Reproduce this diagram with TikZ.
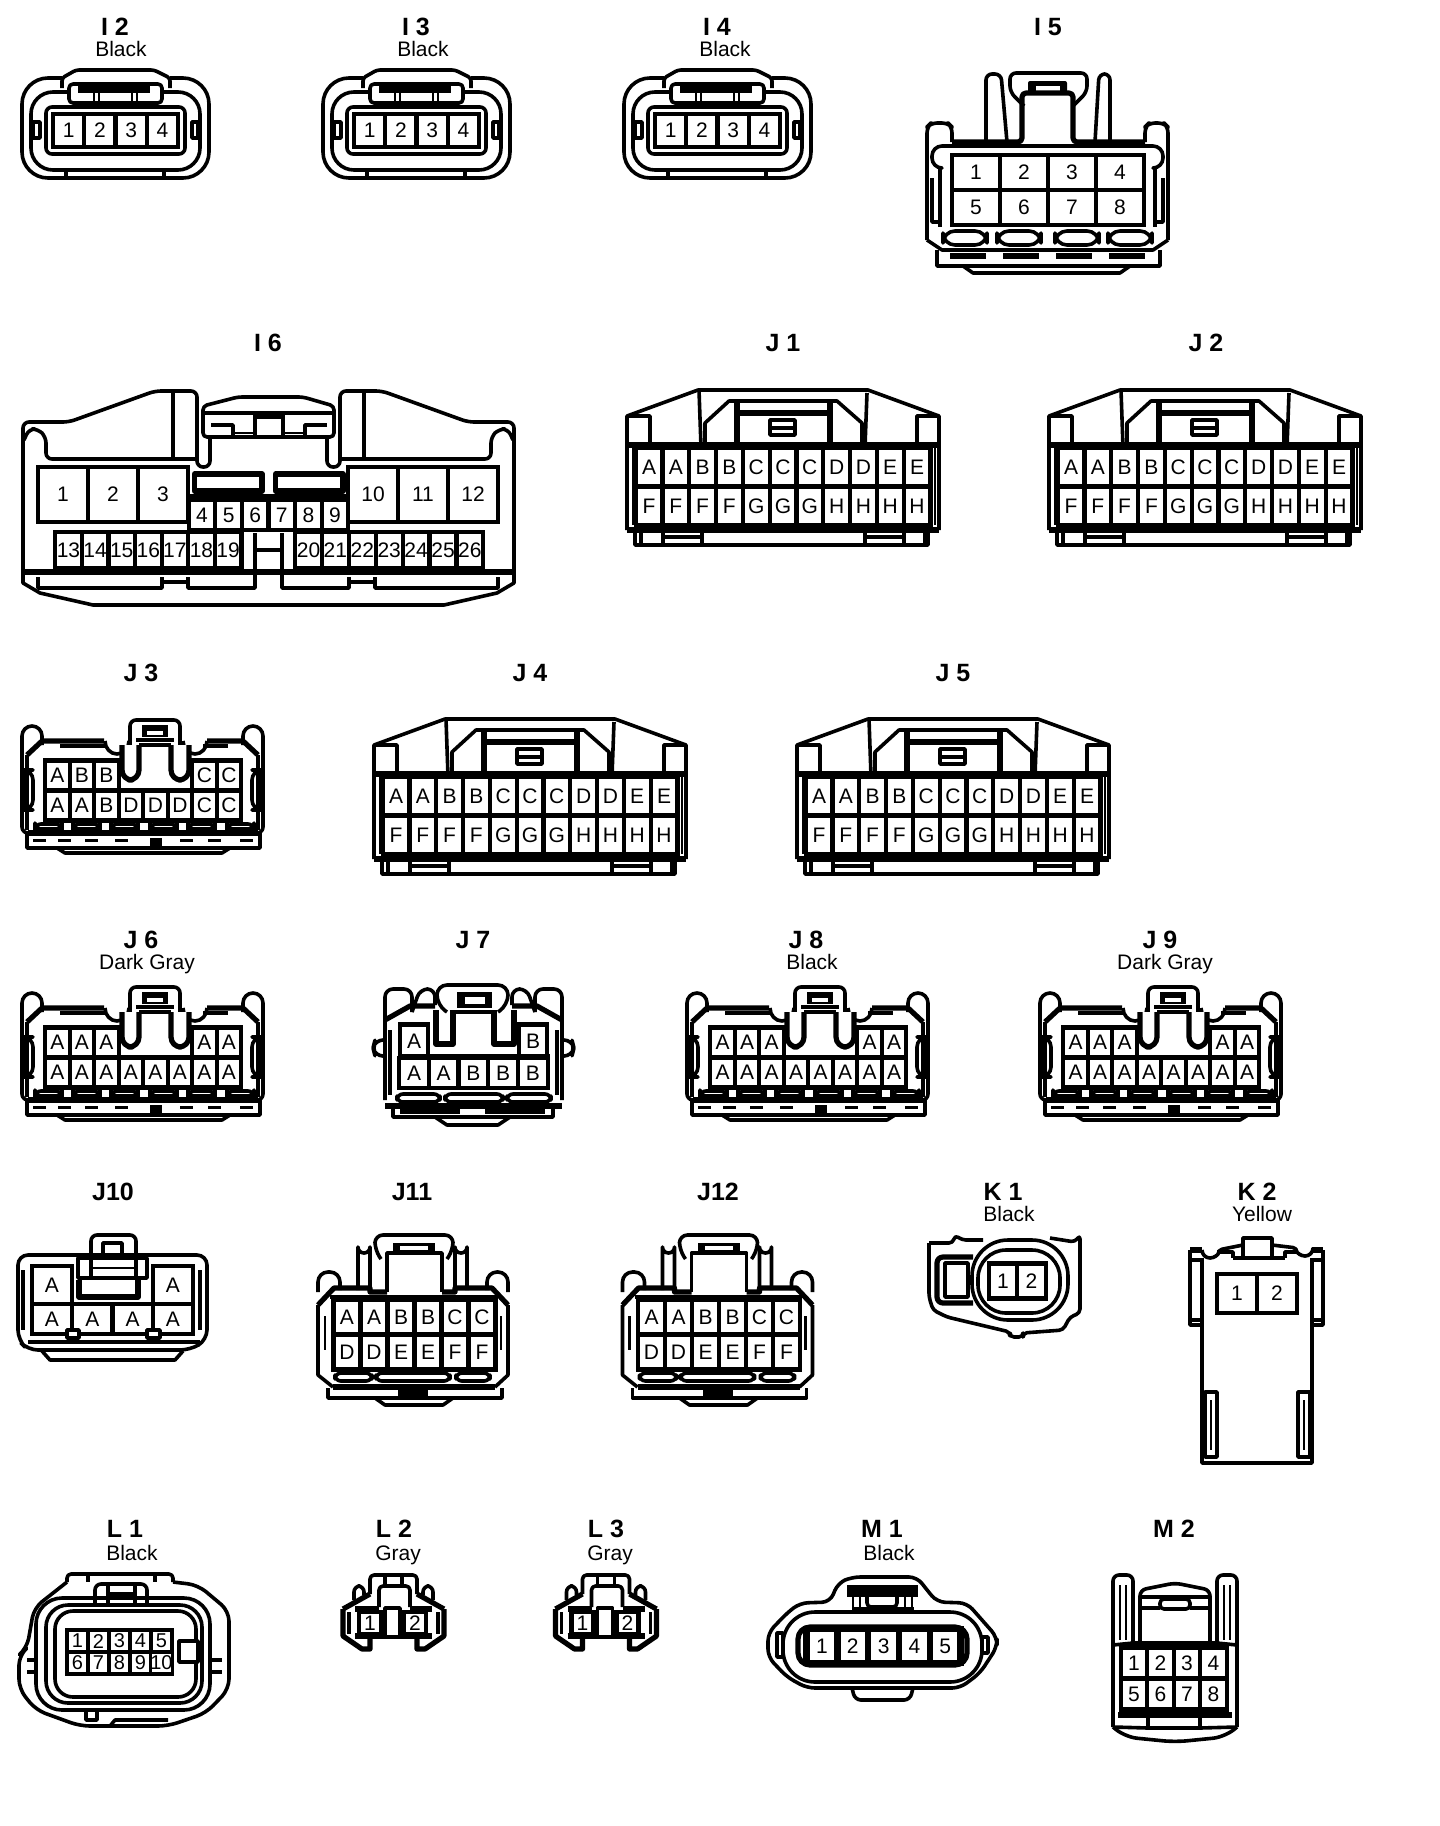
\documentclass[tikz,border=0pt]{standalone}
\usepackage{fontspec}
\setmainfont{Liberation Sans}
\usetikzlibrary{calc}

\newcommand{\pinrow}[7][]{%
  \foreach \lbl [count=\n from 0] in {#7} {
    \node[pincell, minimum width=#5*0.5pt, minimum height=#6*0.5pt, #1] (#2\n) at ({#3+\n*#5},#4) {\lbl};
  }
}

\tikzset{
  x=0.5pt, y=-0.5pt,
  conn/.style={line width=1.8pt, line join=round},
  connthick/.style={line width=2.6pt, line join=round},
  connthin/.style={line width=1.1pt, line join=round},
  pincell/.style={draw, fill=white, line width=2.1pt, inner sep=0pt, font=\fontsize{10.5}{12}\selectfont},
  title/.style={inner sep=0pt, anchor=base, font=\fontsize{12.5}{14}\selectfont\bfseries},
  colorname/.style={inner sep=0pt, anchor=base, font=\fontsize{10.5}{12}\selectfont},
  % four pin oval housing
  pics/fouroval/.style={code={
    \draw[conn, rounded corners=13pt] (62,78) -- (22,78) -- (22,178) -- (209,178) -- (209,78) -- (170,78);
    \draw[conn, rounded corners=1.5pt] (62,88) -- (62,78) -- (76,70) -- (154,70) -- (170,78) -- (170,88);
    \draw[conn, rounded corners=11pt] (69,92) -- (31,92) -- (31,170) -- (200,170) -- (200,92) -- (162,92);
    \draw[conn] (66,170) -- (66,178) (164,170) -- (164,178);
    \draw[conn] (33,122) rectangle (40,138) (192,122) rectangle (198,138);
    \draw[conn, rounded corners=3pt] (46,107) rectangle (185,154);
    \draw[conn, rounded corners=2pt] (69,103) -- (69,84) -- (162,84) -- (162,103) -- cycle;
    \fill (78,84) rectangle (150,93);
    \draw[connthin] (94,93) -- (94,106) (99,93) -- (99,106) (132,93) -- (132,106) (137,93) -- (137,106);
    \pinrow{p}{68.6}{130.5}{31.25}{33}{1,2,3,4}
  }},
  % wide housing with two rows of eleven
  pics/widetwo/.style={code={
    \draw[conn] (627,530) -- (627,416) -- (698,390) -- (868,390) -- (939,416) -- (939,530);
    \draw[conn] (627,416) -- (650,416) -- (650,445) (939,416) -- (917,416) -- (917,445);
    \draw[connthick] (627,445) -- (939,445);
    \draw[conn] (699,390) -- (701,447) (867,393) -- (865,447);
    \draw[conn] (705,447) -- (705,423) -- (729,401) -- (837,401) -- (862,423) -- (862,447);
    \draw[connthick] (737,401) -- (737,446) (830,401) -- (830,446);
    \draw[connthick] (740,413) -- (828,413);
    \draw[conn] (770,420) rectangle (795,435) (770,428) -- (795,428);
    \draw[connthin] (633,445) -- (633,525) (935,445) -- (935,525);
    \pinrow{a}{649}{467}{26.8}{39}{A,A,B,B,C,C,C,D,D,E,E}
    \pinrow{f}{649}{506}{26.8}{39}{F,F,F,F,G,G,G,H,H,H,H}
    \draw[connthick] (627,530) -- (939,530);
    \draw[conn] (635,530) -- (635,545) -- (928,545) -- (928,530);
    \draw[conn] (641,530) -- (641,545) (663,530) -- (663,545) (702,530) -- (702,545) (865,530) -- (865,545) (904,530) -- (904,545) (925,530) -- (925,545);
    \draw[conn] (663,537) -- (702,537) (865,537) -- (904,537);
  }},
  % low housing with tower and two short upper groups
  pics/lowtower/.style n args={3}{code={
    \draw[conn, rounded corners=5pt] (22,745) -- (22,726) -- (42,726) -- (42,745);
    \draw[conn, rounded corners=5pt] (243,745) -- (243,726) -- (263,726) -- (263,745);
    \draw[conn, rounded corners=3pt] (22,740) -- (22,833) -- (263,833) -- (263,740);
    \draw[connthick] (27,755) -- (42,741) -- (104,741) (207,741) -- (243,741) -- (258,755);
    \draw[conn] (27,755) -- (27,830) (258,755) -- (258,830);
    \draw[conn] (60,746) -- (107,746) (203,746) -- (228,746);
    \draw[conn] (105,741) arc (180:0:12 and 13) (183,741) arc (180:0:12 and 13);
    \draw[conn, rounded corners=3pt] (130,745) -- (130,720) -- (180,720) -- (180,745);
    \fill (142,725) rectangle (168,737);
    \fill[white] (147,731) rectangle (163,735);
    \draw[conn] (136,740) -- (174,740);
    \draw[conn, rounded corners=5pt] (23,770) rectangle (33,810) (252,770) rectangle (262,810);
    \pinrow{a}{57.5}{775.5}{24.5}{30}{#1}
    \pinrow{c}{204.5}{775.5}{24.5}{30}{#2}
    \pinrow{d}{57.5}{805.5}{24.5}{30}{#3}
    \draw[connthick, fill=white, rounded corners=5pt] (122,745) -- (122,780) -- (139,780) -- (139,745) (171,745) -- (171,780) -- (189,780) -- (189,745);
    \draw[conn, fill=white, rounded corners=2pt] (139,745) -- (171,745);
    \foreach \tabx in {35,73,111,150,188,227} {
      \draw[conn, rounded corners=3pt] (\tabx,824) rectangle ++(27,5);
    }
    \draw[connthick] (28,833) -- (258,833);
    \draw[conn] (27,833) -- (27,848) -- (260,848) -- (260,833);
    \draw[conn] (57,848) -- (65,853) -- (222,853) -- (230,848);
    \foreach \barx in {33,58,85,115,180,208,240} {
      \fill (\barx,839) rectangle ++(13,3);
    }
    \fill (150,838) rectangle (162,848);
  }},
  % six by two housing with tower
  pics/sixtower/.style={code={
    \draw[conn, rounded corners=5pt] (318,1292) -- (318,1272) -- (340,1272) -- (340,1290);
    \draw[conn, rounded corners=5pt] (487,1290) -- (487,1272) -- (508,1272) -- (508,1292);
    \draw[conn] (358,1290) -- (358,1247) arc (180:0:6) -- (370,1291) (455,1291) -- (455,1247) arc (180:0:6) -- (467,1290);
    \draw[conn, rounded corners=4pt] (381,1259) -- (375,1250) -- (375,1235) -- (453,1235) -- (453,1250) -- (447,1259);
    \fill (393,1243) rectangle (435,1252);
    \fill[white] (400,1246) rectangle (428,1250);
    \draw[conn] (387,1292) -- (387,1253) -- (442,1253) -- (442,1292);
    \draw[connthick] (318,1305) -- (334,1288) -- (370,1288) -- (370,1292) -- (387,1292) (442,1292) -- (455,1292) -- (455,1288) -- (492,1288) -- (508,1305);
    \draw[conn] (330,1297) -- (497,1297);
    \draw[conn] (318,1305) -- (318,1375) -- (333,1387) (508,1305) -- (508,1375) -- (495,1387);
    \draw[connthin] (325,1316) -- (325,1350) (501,1316) -- (501,1350);
    \pinrow{a}{347}{1317}{27}{35}{A,A,B,B,C,C}
    \pinrow{d}{347}{1352}{27}{35}{D,D,E,E,F,F}
    \draw[conn, rounded corners=3pt] (335,1373) rectangle (372,1381) (376,1373) rectangle (450,1381) (456,1373) rectangle (490,1381);
    \draw[connthick] (333,1387) -- (495,1387);
    \draw[conn] (328,1388) -- (328,1398) -- (502,1398) -- (502,1388);
    \fill (398,1390) rectangle (428,1396);
    \draw[conn] (375,1398) -- (385,1405) -- (443,1405) -- (453,1398);
  }},
  % two pin housing of the L row
  pics/twosmall/.style={code={
    \draw[conn, rounded corners=2pt] (370,1594) -- (370,1575) -- (417,1575) -- (417,1594);
    \draw[conn, rounded corners=2pt] (379,1607) -- (379,1586) -- (410,1586) -- (410,1607);
    \draw[conn] (385,1575) -- (385,1586) (402,1575) -- (402,1586);
    \draw[conn, rounded corners=3pt] (354,1600) -- (354,1586) -- (364,1586) -- (364,1595) (423,1595) -- (423,1586) -- (433,1586) -- (433,1600);
    \draw[connthick] (343,1609) -- (370,1594) (417,1594) -- (444,1609);
    \draw[connthick] (343,1609) -- (343,1636) -- (362,1649) -- (370,1649) -- (370,1636) (444,1609) -- (444,1636) -- (425,1649) -- (417,1649) -- (417,1636);
    \draw[conn] (349,1612) -- (349,1634) (438,1612) -- (438,1634);
    \draw[connthick] (355,1609) -- (379,1609) (410,1609) -- (432,1609) (355,1636) -- (432,1636);
    \pinrow[minimum width=22*0.5pt]{l}{370}{1623}{45}{22}{1,2}
    \draw[conn, fill=white] (385,1608) rectangle (400,1637);
  }},
}

\begin{document}
\begin{tikzpicture}
  \useasboundingbox (0,0) rectangle (1440,1826);

  % connector names
  \foreach \tname/\tx/\ty in {
    I 2/115/35, I 3/416/35, I 4/717/35, I 5/1048/35, I 6/268/351, J 1/783/351, J 2/1206/351,
    J 3/141/681, J 4/530/681, J 5/953/681, J 6/141/948, J 7/473/948, J 8/806/948, J 9/1160/948,
    J10/113/1200, J11/412/1200, J12/718/1200, K 1/1003/1200, K 2/1257/1200,
    L 1/125/1537, L 2/394/1537, L 3/606/1537, M 1/882/1537, M 2/1174/1537} {
    \node[title] (name\tx\ty) at (\tx,\ty) {\tname};
  }

  % connector colours
  \foreach \cname/\cx/\cy in {
    Black/121/56, Black/423/56, Black/725/56, Dark Gray/147/969, Black/812/969, Dark Gray/1165/969,
    Black/1009/1221, Yellow/1262/1221, Black/132/1560, Gray/398/1560, Gray/610/1560, Black/889/1560} {
    \node[colorname] (colour\cx\cy) at (\cx,\cy) {\cname};
  }

  % I row
  \pic (i2) at (0,0) {fouroval};
  \pic (i3) at (301,0) {fouroval};
  \pic (i4) at (602,0) {fouroval};

  % I5
  \draw[conn, rounded corners=3pt] (927,240) -- (927,127) -- (931,123) -- (948,123) -- (952,127) -- (952,142);
  \draw[conn, rounded corners=3pt] (1145,142) -- (1145,127) -- (1149,123) -- (1164,123) -- (1168,127) -- (1168,240);
  \draw[conn, rounded corners=3pt] (986,142) -- (986,74) -- (1001,74) -- (1007,142);
  \draw[conn, rounded corners=3pt] (1095,142) -- (1099,74) -- (1110,74) -- (1110,142);
  \draw[conn, rounded corners=3pt] (1024,106) -- (1010,92) -- (1010,73) -- (1087,73) -- (1087,92) -- (1073,106);
  \fill[rounded corners=1pt] (1028,81) rectangle (1067,93);
  \fill[white] (1036,86) rectangle (1060,91);
  \draw[connthick, rounded corners=2pt] (952,142) -- (1022,142) -- (1022,93) -- (1073,93) -- (1073,142) -- (1145,142);
  \draw[conn, rounded corners=5pt] (940,168) -- (932,168) -- (932,146) -- (1163,146) -- (1163,168) -- (1155,168);
  \draw[conn] (940,168) -- (940,227) (932,178) -- (932,222) -- (940,222) (1155,168) -- (1155,227) (1163,178) -- (1163,222) -- (1155,222);
  \pinrow{i5a}{976}{172.5}{48}{35}{1,2,3,4}
  \pinrow{i5b}{976}{207.5}{48}{35}{5,6,7,8}
  \foreach \ovalx in {943,997,1055,1108} {
    \draw[conn, rounded corners=6pt] (\ovalx,231) rectangle ++(44,14);
  }
  \draw[conn] (927,240) -- (942,250) -- (1153,250) -- (1168,240);
  \draw[conn] (937,250) -- (937,266) -- (1160,266) -- (1160,250);
  \draw[conn] (963,266) -- (973,273) -- (1120,273) -- (1130,266);
  \foreach \barx in {950,1003,1056,1109} {
    \fill (\barx,253) rectangle ++(36,6);
  }

  % I6
  \draw[conn, rounded corners=3pt] (23,440) -- (23,422) -- (69,422) -- (155,391) -- (197,391) -- (197,467) -- (210,467) -- (210,437);
  \draw[conn, rounded corners=3pt] (514,440) -- (514,422) -- (468,422) -- (382,391) -- (340,391) -- (340,467) -- (327,467) -- (327,437);
  \draw[conn] (173,391) -- (173,459) (364,391) -- (364,459);
  \draw[conn] (23,440) -- (23,583) -- (40,593) -- (93,605) -- (444,605) -- (497,593) -- (514,583) -- (514,440);
  \draw[conn, rounded corners=3pt] (24,440) -- (29,429) -- (38,429) -- (46,437) -- (46,459) -- (197,459);
  \draw[conn, rounded corners=3pt] (513,440) -- (508,429) -- (499,429) -- (491,437) -- (491,459) -- (340,459);
  \draw[conn, rounded corners=2pt] (203,437) -- (203,406) -- (238,397) -- (303,397) -- (334,406) -- (334,437) -- cycle;
  \draw[conn] (203,413) -- (334,413);
  \draw[conn] (255,413) rectangle (283,437);
  \fill (255,413) rectangle (283,419);
  \draw[conn] (211,425) -- (233,425) -- (233,437) (327,425) -- (305,425) -- (305,437);
  \draw[connthin] (233,433) -- (255,433) (283,433) -- (305,433);
  \draw[connthick] (194.5,474) rectangle (262,491) (275.5,474) rectangle (343,491);
  \draw[connthick] (189,497) -- (348,497);
  \pinrow{i6a}{63}{494.5}{50}{55}{1,2,3}
  \pinrow{i6b}{373}{494.5}{50}{55}{10,11,12}
  \pinrow{i6c}{202}{515}{26.6}{30}{4,5,6,7,8,9}
  \pinrow{i6d}{68.5}{550}{26.6}{36}{13,14,15,16,17,18,19}
  \pinrow{i6e}{308.5}{550}{26.9}{36}{20,21,22,23,24,25,26}
  \draw[connthick] (23,572) -- (514,572);
  \draw[conn] (255,533) -- (255,588) -- (188,588) -- (188,577);
  \draw[conn] (282,533) -- (282,588) -- (349,588) -- (349,577);
  \draw[conn] (255,550) -- (282,550);
  \draw[conn] (38,577) -- (38,588) -- (162,588) -- (162,577) (498,577) -- (498,588) -- (375,588) -- (375,577);
  \draw[conn] (162,582) -- (188,582) (349,582) -- (375,582);

  % J1 to J5
  \pic (j1) at (0,0) {widetwo};
  \pic (j2) at (422,0) {widetwo};
  \pic (j4) at (-253,329) {widetwo};
  \pic (j5) at (170,329) {widetwo};

  % J3, J6, J8, J9
  \pic (j3) at (0,0) {lowtower={A,B,B}{C,C}{A,A,B,D,D,D,C,C}};
  \pic (j6) at (0,267) {lowtower={A,A,A}{A,A}{A,A,A,A,A,A,A,A}};
  \pic (j8) at (665,267) {lowtower={A,A,A}{A,A}{A,A,A,A,A,A,A,A}};
  \pic (j9) at (1018,267) {lowtower={A,A,A}{A,A}{A,A,A,A,A,A,A,A}};

  % J7
  \draw[conn, rounded corners=4pt] (385,1100) -- (385,989) -- (412,989) -- (412,1012);
  \draw[conn, rounded corners=4pt] (562,1100) -- (562,989) -- (535,989) -- (535,1012);
  \draw[conn, rounded corners=4pt] (412,1012) -- (420,989) -- (435,989) -- (435,1005) (535,1012) -- (527,989) -- (512,989) -- (512,1005);
  \draw[conn, rounded corners=5pt] (447,1012) -- (437,1005) -- (437,985) -- (508,985) -- (508,1005) -- (498,1012);
  \fill (457,992) rectangle (492,1008);
  \fill[white] (465,997) rectangle (485,1004);
  \draw[conn] (453,1012) -- (496,1012);
  \draw[connthick] (385,1020) -- (410,1006) -- (435,1006) (512,1006) -- (537,1006) -- (562,1020);
  \draw[conn] (390,1030) -- (390,1095) (557,1030) -- (557,1095);
  \draw[conn, rounded corners=4pt] (385,1040) -- (375,1040) -- (373,1048) -- (375,1056) -- (385,1056) (562,1040) -- (572,1040) -- (574,1048) -- (572,1056) -- (562,1056);
  \pinrow[minimum width=28*0.5pt]{j7a}{414}{1041}{119}{33}{A,B}
  \draw[connthick] (398,1057) -- (550,1057);
  \draw[connthick] (436,1010) -- (436,1044) -- (453,1044) -- (453,1010) (494,1010) -- (494,1044) -- (514,1044) -- (514,1010);
  \pinrow[minimum width=30*0.5pt, minimum height=30*0.5pt]{j7b}{414}{1073}{29.7}{33}{A,A,B,B,B}
  \draw[conn, rounded corners=3pt] (397,1094) rectangle (440,1102) (445,1094) rectangle (503,1102) (507,1094) rectangle (551,1102);
  \draw[connthick] (385,1106) -- (562,1106);
  \draw[conn] (393,1106) -- (393,1117) -- (553,1117) -- (553,1106);
  \draw[connthick] (400,1111) -- (460,1111) (485,1111) -- (545,1111);
  \draw[conn] (435,1117) -- (447,1125) -- (498,1125) -- (510,1117);

  % J10
  \draw[conn, rounded corners=5pt] (18,1340) -- (18,1255) -- (207,1255) -- (207,1340) -- (190,1350) -- (28,1350) -- cycle;
  \draw[conn] (23,1270) -- (23,1330) (200,1270) -- (200,1330);
  \draw[conn] (28,1342) -- (200,1342);
  \draw[conn] (42,1351) -- (50,1360) -- (175,1360) -- (183,1351);
  \draw[conn, rounded corners=3pt] (91,1278) -- (91,1235) -- (136,1235) -- (136,1278);
  \draw[conn] (103,1255) -- (103,1243) -- (122,1243) -- (122,1255);
  \draw[conn] (78,1258) -- (147,1258) -- (147,1278) -- (78,1278) -- cycle;
  \draw[connthick] (79,1280) -- (79,1297) -- (138,1297) -- (138,1280);
  \draw[connthin] (91,1268) -- (136,1268);
  \pinrow[minimum width=40*0.5pt]{j10a}{52}{1285}{121}{38}{A,A}
  \pinrow[minimum width=40*0.5pt]{j10b}{52}{1319}{40.3}{30}{A,A,A,A}
  \draw[conn, fill=white] (67,1330) rectangle (79,1338) (147,1330) rectangle (160,1338);

  % J11, J12
  \pic (j11) at (0,0) {sixtower};
  \pic (j12) at (304.5,0) {sixtower};

  % K1
  \draw[conn, rounded corners=2pt] (929,1243) -- (953,1243) -- (955,1235) -- (962,1240) -- (983,1240) (1050,1238) -- (1075,1242) -- (1080,1235) -- (1080,1313) -- (1070,1317) -- (1063,1330) -- (1023,1333) -- (1023,1337) -- (1010,1337) -- (1010,1332) -- (947,1317) -- (933,1310) -- (929,1297) -- (929,1243);
  \draw[conn, fill=white, rounded corners=18pt] (972,1240) rectangle (1068,1320);
  \draw[conn, rounded corners=14pt] (978,1250) rectangle (1060,1313);
  \draw[connthick, rounded corners=3pt] (973,1257) -- (937,1257) -- (937,1303) -- (973,1303);
  \draw[conn] (945,1263) rectangle (968,1297);
  \pinrow{k1a}{1003}{1281}{28.5}{35}{1,2}

  % K2
  \draw[conn] (1202,1258) -- (1202,1463) -- (1312,1463) -- (1312,1258);
  \draw[connthick] (1190,1250) -- (1202,1250) (1312,1250) -- (1323,1250);
  \draw[conn] (1190,1250) -- (1190,1325) -- (1202,1325) (1323,1250) -- (1323,1325) -- (1312,1325);
  \draw[conn] (1190,1260) -- (1202,1260) (1312,1260) -- (1323,1260) (1190,1320) -- (1202,1320) (1312,1320) -- (1323,1320);
  \draw[conn, rounded corners=2pt] (1202,1250) arc (180:0:8) -- (1243,1245) (1272,1245) -- (1297,1248) arc (180:0:8);
  \draw[conn] (1243,1238) rectangle (1272,1258);
  \draw[conn] (1233,1258) -- (1285,1258) (1217,1252) -- (1233,1252) -- (1233,1258) (1298,1252) -- (1285,1252) -- (1285,1258);
  \pinrow{k2a}{1237}{1293.5}{40}{39}{1,2}
  \draw[conn] (1205,1392) rectangle (1217,1457) (1298,1392) rectangle (1310,1457);
  \draw[connthin] (1211,1400) -- (1211,1450) (1304,1400) -- (1304,1450);

  % L1
  \draw[conn, rounded corners=5pt] (67,1582) -- (34,1608) -- (27,1648) -- (19,1655) -- (19,1689) -- (36,1710) -- (80,1726) -- (168,1726) -- (206,1713) -- (229,1689) -- (229,1611) -- (198,1585) -- (173,1582);
  \draw[conn, rounded corners=2pt] (67,1582) -- (67,1574) -- (173,1574) -- (173,1582);
  \draw[conn] (88,1574) -- (88,1582) (155,1574) -- (155,1582);
  \draw[conn, rounded corners=13pt] (36,1598) rectangle (210,1710);
  \draw[conn, rounded corners=11pt] (46,1605) rectangle (202,1703);
  \draw[conn, rounded corners=9pt] (55,1611) rectangle (196,1697);
  \draw[conn, rounded corners=3pt] (95,1605) -- (95,1584) -- (147,1584) -- (147,1605);
  \draw[conn] (108,1584) -- (108,1605) (135,1584) -- (135,1605) (108,1594) -- (135,1594);
  \draw[conn] (27,1660) -- (36,1660) (27,1672) -- (36,1672) (210,1660) -- (222,1660) (210,1672) -- (222,1672);
  \draw[conn] (86,1710) -- (86,1720) -- (97,1720) -- (97,1710) (110,1726) -- (115,1720) -- (168,1720);
  \fill (67,1630) rectangle (173,1674);
  \pinrow[line width=1.7pt, font=\fontsize{10}{11}\selectfont]{l1a}{77.5}{1641}{21}{22}{1,2,3,4,5}
  \pinrow[line width=1.7pt, font=\fontsize{10}{11}\selectfont]{l1b}{77.5}{1663}{21}{22}{6,7,8,9,10}
  \draw[conn, fill=white] (179,1641) rectangle (198,1662);

  % L2, L3
  \pic (l2) at (0,0) {twosmall};
  \pic (l3) at (212.5,0) {twosmall};

  % M1
  \draw[conn, rounded corners=4pt] (768,1633) -- (787,1613) -- (800,1603) -- (830,1602) -- (838,1583) -- (852,1577) -- (917,1577) -- (927,1590) -- (937,1602) -- (967,1603) -- (997,1637) -- (997,1647) -- (980,1673) -- (960,1688) -- (807,1688) -- (787,1677) -- (768,1657) -- cycle;
  \draw[conn, rounded corners=16pt] (783,1612) rectangle (982,1682);
  \draw[conn, rounded corners=3pt] (852,1688) -- (855,1700) -- (910,1700) -- (913,1688);
  \draw[conn] (777,1633) rectangle (783,1657) (982,1637) rectangle (988,1653);
  \draw[connthick, rounded corners=6pt] (798,1627) rectangle (967,1665);
  \pinrow[minimum height=34*0.5pt, line width=3.2pt]{m1a}{822}{1646}{30.8}{34}{1,2,3,4,5}
  \fill (847,1585) rectangle (918,1597);
  \draw[conn, rounded corners=2pt] (867,1596) -- (867,1607) -- (897,1607) -- (897,1596);
  \draw[connthin] (853,1597) -- (853,1609) (860,1597) -- (860,1609) (905,1597) -- (905,1609) (912,1597) -- (912,1609);
  \draw[conn] (852,1609) -- (914,1609);

  % M2
  \draw[conn, rounded corners=3pt] (1113,1727) -- (1113,1575) -- (1133,1575) -- (1133,1643);
  \draw[conn, rounded corners=3pt] (1237,1727) -- (1237,1575) -- (1217,1575) -- (1217,1643);
  \draw[connthin] (1120,1585) -- (1120,1640) (1126,1585) -- (1126,1640) (1224,1585) -- (1224,1640) (1230,1585) -- (1230,1640);
  \draw[conn] (1113,1645) -- (1133,1643) -- (1217,1643) -- (1237,1645);
  \draw[conn, rounded corners=3pt] (1140,1643) -- (1140,1590) -- (1175,1583) -- (1210,1590) -- (1210,1643);
  \draw[conn] (1140,1597) -- (1210,1597) (1140,1608) -- (1160,1608) (1190,1608) -- (1210,1608);
  \draw[conn, rounded corners=2pt] (1160,1609) -- (1160,1599) -- (1190,1599) -- (1190,1609) -- cycle;
  \pinrow{m2a}{1134}{1663}{26.5}{31}{1,2,3,4}
  \pinrow{m2b}{1134}{1694}{26.5}{31}{5,6,7,8}
  \draw[connthick] (1118,1715) -- (1232,1715);
  \draw[conn] (1148,1715) -- (1148,1728) -- (1200,1728) -- (1200,1715);
  \draw[conn] (1113,1727) -- (1148,1728) (1200,1728) -- (1237,1727);
  \draw[conn, rounded corners=6pt] (1113,1727) -- (1125,1737) -- (1175,1742) -- (1225,1737) -- (1237,1727);
\end{tikzpicture}
\end{document}
